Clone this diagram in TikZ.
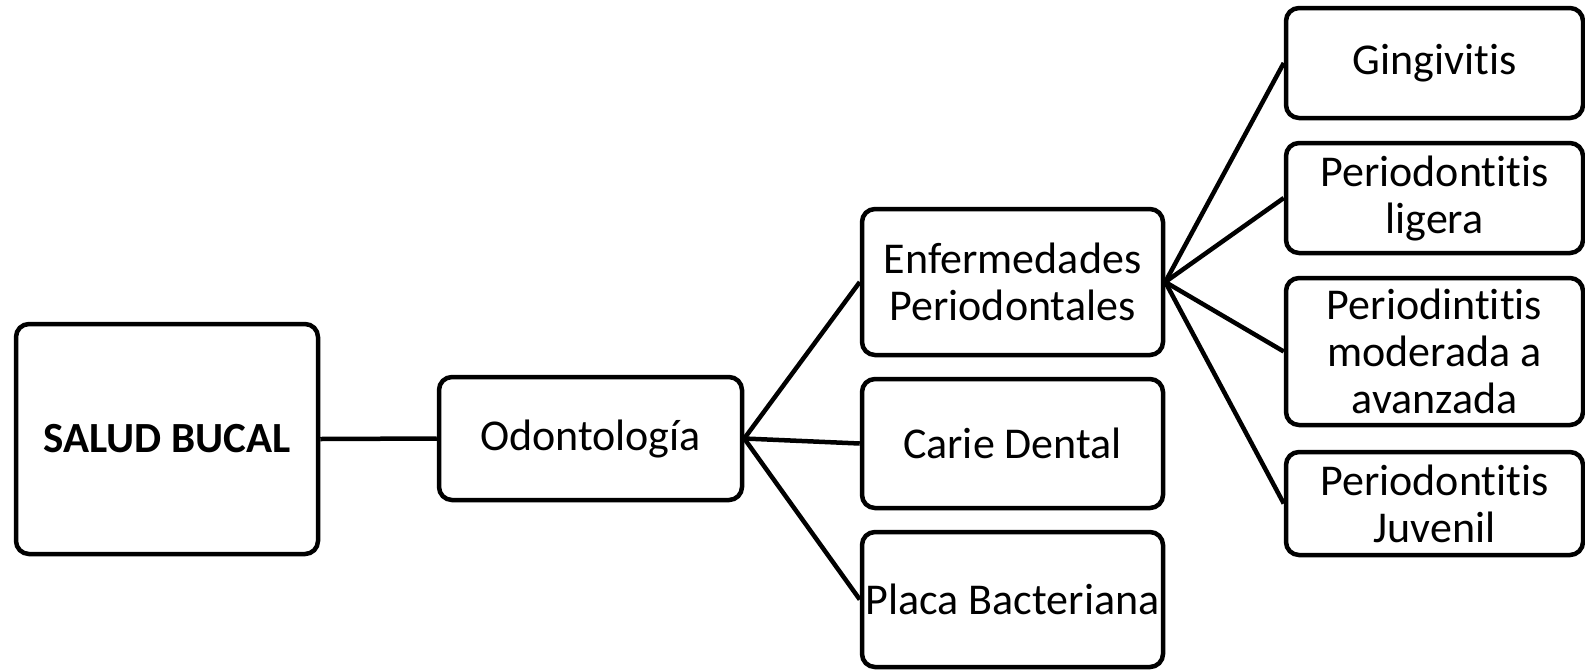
\documentclass[tikz,border=0pt]{standalone}
\usepackage{fontspec}
\setmainfont[Ligatures=NoCommon,Contextuals=NoAlternate,RawFeature={-clig;-dlig}]{Carlito}
\begin{document}
\begin{tikzpicture}[x=1pt,y=-1pt,
  box/.style={draw, line width=4.5pt, rounded corners=13pt, inner sep=0pt, align=center,
    font=\fontsize{44}{47}\selectfont},
  conn/.style={line width=4.5pt}]
\useasboundingbox (0,0) rectangle (1585,670);
\node[box, minimum width=302pt, minimum height=230pt, font=\fontsize{43}{46}\selectfont\bfseries] (salud) at (167,439) {SALUD BUCAL};
\node[box, minimum width=303pt, minimum height=123pt] (odon) at (590.5,438.5) {Odontología};
\node[box, minimum width=301pt, minimum height=146pt] (enf) at (1012.5,282) {Enfermedades\\Periodontales};
\node[box, minimum width=301pt, minimum height=129pt] (carie) at (1012.5,443.5) {Carie Dental};
\node[box, minimum width=301pt, minimum height=135pt] (placa) at (1012.5,599.5) {Placa Bacteriana};
\node[box, minimum width=297pt, minimum height=110pt] (ging) at (1434.5,63) {Gingivitis};
\node[box, minimum width=297pt, minimum height=110pt] (lig) at (1434.5,198) {Periodontitis\\ligera};
\node[box, minimum width=297pt, minimum height=147pt] (mod) at (1434.5,351.5) {Periodintitis\\moderada a\\avanzada};
\node[box, minimum width=297pt, minimum height=103pt] (juv) at (1434.5,503.5) {Periodontitis\\Juvenil};
\draw[conn] (salud.east) -- (odon.west);
\draw[conn] (odon.east) -- (enf.west);
\draw[conn] (odon.east) -- (carie.west);
\draw[conn] (odon.east) -- (placa.west);
\draw[conn] (enf.east) -- (ging.west);
\draw[conn] (enf.east) -- (lig.west);
\draw[conn] (enf.east) -- (mod.west);
\draw[conn] (enf.east) -- (juv.west);
\end{tikzpicture}
\end{document}
